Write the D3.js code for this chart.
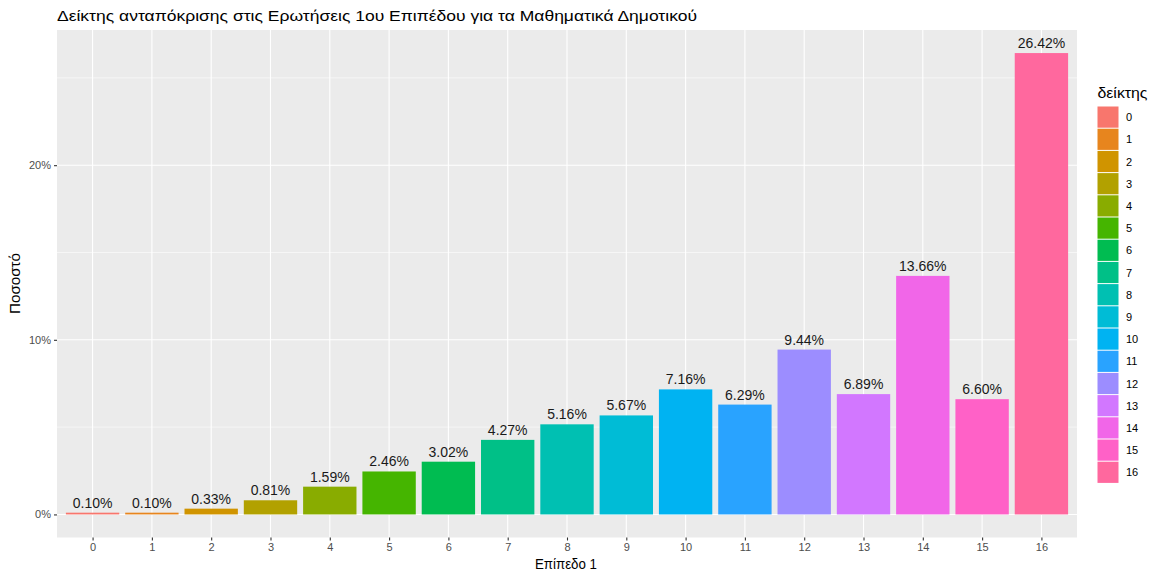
<!DOCTYPE html>
<html><head><meta charset="utf-8">
<script src="https://cdn.jsdelivr.net/npm/d3@7"></script>
<style>body{margin:0;background:#fff}svg{font-family:"Liberation Sans",Arial,sans-serif}</style>
</head><body><svg id="c" width="1151" height="571"></svg>
<script>
const categories = ["0","1","2","3","4","5","6","7","8","9","10","11","12","13","14","15","16"];
const values = [0.10,0.10,0.33,0.81,1.59,2.46,3.02,4.27,5.16,5.67,7.16,6.29,9.44,6.89,13.66,6.60,26.42];
const labels = ["0.10%","0.10%","0.33%","0.81%","1.59%","2.46%","3.02%","4.27%","5.16%","5.67%","7.16%","6.29%","9.44%","6.89%","13.66%","6.60%","26.42%"];
const yTicks = [0,10,20];
const yMinor = [5,15,25];
const title = "Δείκτης ανταπόκρισης στις Ερωτήσεις 1ου Επιπέδου για τα Μαθηματικά Δημοτικού";
const xTitle = "Επίπεδο 1", yTitle = "Ποσοστό", legendTitle = "δείκτης";

// ggplot2 hue palette (polar LUV -> sRGB)
function hclLuv(h,c,l){
  const Xn=95.047,Yn=100,Zn=108.883;
  const hr=h*Math.PI/180, u=c*Math.cos(hr), v=c*Math.sin(hr);
  const Y = l>8 ? Yn*Math.pow((l+16)/116,3) : Yn*l/903.3;
  const den=Xn+15*Yn+3*Zn, un=4*Xn/den, vn=9*Yn/den;
  const up=u/(13*l)+un, vp=v/(13*l)+vn;
  const X=9*Y*up/(4*vp), Z=-X/3-5*Y+3*Y/vp;
  const x=X/100,y=Y/100,z=Z/100;
  let r= 3.240479*x-1.537150*y-0.498535*z;
  let g=-0.969256*x+1.875992*y+0.041556*z;
  let b= 0.055648*x-0.204043*y+1.057311*z;
  const gam=t=>{t=t<=0.0031308?12.92*t:1.055*Math.pow(t,1/2.4)-0.055;return Math.round(Math.max(0,Math.min(1,t))*255);};
  return d3.rgb(gam(r),gam(g),gam(b)).formatHex();
}
const n=categories.length;
const colors=categories.map((d,i)=>hclLuv(15+360/n*i,100,65));

const svg=d3.select("#c");
const L=57,R=1077,T=30,B=537.5;
const ymax=d3.max(values), pad=ymax*0.05;
const y=d3.scaleLinear().domain([-pad,ymax+pad]).range([B,T]);
const x=d3.scaleBand().domain(categories).range([L,R]).paddingInner(0.1).paddingOuter(0.15);
const cx=d=>x(d)+x.bandwidth()/2;

svg.append("rect").attr("x",L).attr("y",T).attr("width",R-L).attr("height",B-T).attr("fill","#EBEBEB");
yMinor.forEach(t=>svg.append("line").attr("x1",L).attr("x2",R).attr("y1",y(t)).attr("y2",y(t)).attr("stroke","#fff").attr("stroke-width",0.55));
yTicks.forEach(t=>svg.append("line").attr("x1",L).attr("x2",R).attr("y1",y(t)).attr("y2",y(t)).attr("stroke","#fff").attr("stroke-width",1.1));
categories.forEach(c=>svg.append("line").attr("x1",cx(c)).attr("x2",cx(c)).attr("y1",T).attr("y2",B).attr("stroke","#fff").attr("stroke-width",1.1));

svg.selectAll("rect.bar").data(values).join("rect").attr("class","bar")
  .attr("x",(d,i)=>x(categories[i])).attr("width",x.bandwidth())
  .attr("y",d=>y(d)).attr("height",d=>y(0)-y(d)).attr("fill",(d,i)=>colors[i]);

svg.selectAll("text.lab").data(values).join("text").attr("class","lab")
  .attr("x",(d,i)=>cx(categories[i])).attr("y",d=>y(d)-5)
  .attr("text-anchor","middle").attr("font-size",14).attr("fill","#1a1a1a").text((d,i)=>labels[i]);

// axes
const xa=svg.append("g").attr("transform",`translate(0,${B})`)
  .call(d3.axisBottom(d3.scalePoint().domain(categories).range([cx(categories[0]),cx(categories[n-1])])).tickSize(3).tickPadding(3));
const ya=svg.append("g").attr("transform",`translate(${L},0)`)
  .call(d3.axisLeft(y).tickValues(yTicks).tickFormat(d=>d+"%").tickSize(3).tickPadding(3));
[xa,ya].forEach(a=>{a.select(".domain").remove();a.selectAll("line").attr("stroke","#333").attr("stroke-width",1.1);
  a.selectAll("text").attr("fill","#4D4D4D").attr("font-size",11).attr("font-family","Liberation Sans,Arial,sans-serif");});

svg.append("text").attr("x",57).attr("y",21).attr("font-size",15.5).attr("fill","#000")
  .attr("textLength",640).attr("lengthAdjust","spacingAndGlyphs").text(title);
svg.append("text").attr("x",535).attr("y",568.5).attr("font-size",15)
  .attr("textLength",62).attr("lengthAdjust","spacingAndGlyphs").text(xTitle);
svg.append("text").attr("transform",`translate(19.5,314) rotate(-90)`).attr("font-size",14.5)
  .attr("textLength",61).attr("lengthAdjust","spacingAndGlyphs").text(yTitle);

// legend
const lg=svg.append("g");
lg.append("text").attr("x",1097.5).attr("y",98).attr("font-size",14)
  .attr("textLength",50).attr("lengthAdjust","spacingAndGlyphs").text(legendTitle);
const ks=22.2, k0=106;
categories.forEach((c,i)=>{
  lg.append("rect").attr("x",1097.5).attr("y",k0+i*ks+0.5).attr("width",21).attr("height",ks-1).attr("fill",colors[i]);
  lg.append("text").attr("x",1126).attr("y",k0+i*ks+ks/2+4).attr("font-size",11).attr("fill","#000").text(c);
});
</script></body></html>
